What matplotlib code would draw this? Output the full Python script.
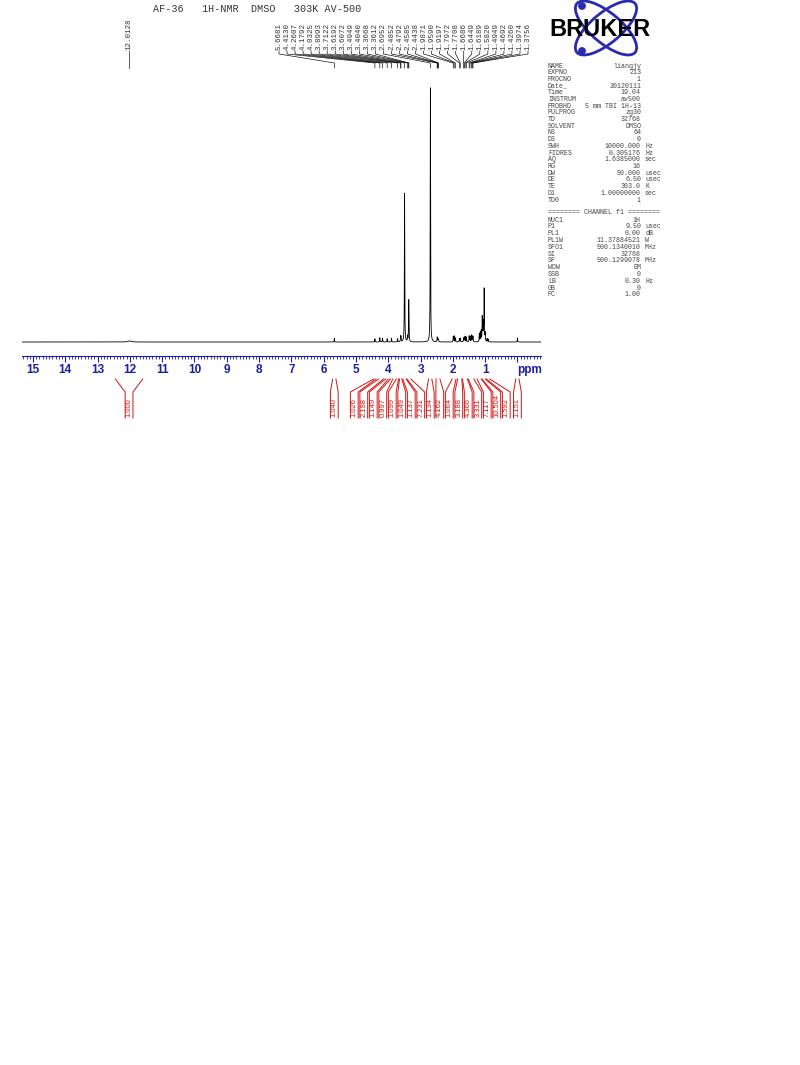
import numpy as np
import matplotlib
matplotlib.use('Agg')
import matplotlib.pyplot as plt
from matplotlib.patches import Ellipse, Circle
from matplotlib.transforms import Bbox, TransformedBbox

# --- data ---
# spectrum peaks (ppm, height relative to the tallest line, half width in ppm)
peak_ppm = [12.01, 5.668, 4.413, 4.261, 4.179, 4.033, 3.899, 3.712, 3.619, 3.607,
            3.4949, 3.404, 3.3668, 3.3612, 2.6952, 2.4852, 2.4792, 2.4585, 2.4438,
            1.987, 1.959, 1.920, 1.797, 1.771, 1.669, 1.645, 1.619, 1.582,
            1.495, 1.469, 1.426, 1.397, 1.376, 1.18, 1.15, 1.12, 1.09, 1.07,
            1.05, 1.03, 1.00, 0.94, 0.90, 0.0]
peak_height = [0.004, 0.014, 0.012, 0.016, 0.014, 0.012, 0.014, 0.012, 0.018, 0.018,
               0.557, 0.02, 0.10, 0.09, 0.956, 0.012, 0.01, 0.01, 0.008,
               0.02, 0.022, 0.015, 0.012, 0.014, 0.014, 0.016, 0.02, 0.018,
               0.022, 0.02, 0.025, 0.02, 0.02, 0.03, 0.035, 0.04, 0.089, 0.05,
               0.06, 0.193, 0.03, 0.012, 0.01, 0.015]
peak_width = [0.06] + [0.006] * 43

# peak pick labels
label_ppm = [5.6681, 4.4130, 4.2607, 4.1792, 4.0325, 3.8993, 3.7122, 3.6192, 3.6072,
             3.4949, 3.4040, 3.3668, 3.3612, 2.6952, 2.4852, 2.4792, 2.4585, 2.4438,
             1.9871, 1.9590, 1.9197, 1.7972, 1.7708, 1.6686, 1.6449, 1.6189, 1.5820,
             1.4949, 1.4692, 1.4260, 1.3974, 1.3756]
lone_label_ppm = 12.0128

# integrals: region (from, to) in ppm and value
int_hi = [12.45, 5.72, 4.45, 4.30, 4.08, 3.93, 3.75, 3.65, 3.55, 3.42,
          2.75, 2.52, 2.02, 1.85, 1.70, 1.52, 1.25, 1.10, 0.96, 0.05]
int_lo = [11.60, 5.62, 4.38, 4.15, 4.00, 3.86, 3.68, 3.58, 3.45, 3.30,
          2.65, 2.40, 1.90, 1.72, 1.55, 1.35, 1.12, 1.00, 0.86, -0.05]
int_val = ['1.000', '1.040', '1.026', '2.198', '1.149', '0.997', '1.099', '1.049',
           '1.137', '7.231', '1.134', '4.162', '1.064', '3.188', '4.366', '3.331',
           '7.117', '10.504', '1.592', '1.151']

title = 'AF-36   1H-NMR  DMSO   303K AV-500'

par_names = ['NAME', 'EXPNO', 'PROCNO', 'Date_', 'Time', 'INSTRUM', 'PROBHD', 'PULPROG',
             'TD', 'SOLVENT', 'NS', 'DS', 'SWH', 'FIDRES', 'AQ', 'RG', 'DW', 'DE',
             'TE', 'D1', 'TD0']
par_values = ['liangjy', '213', '1', '20120111', '19.04', 'av500', '5 mm TBI 1H-13',
              'zg30', '32768', 'DMSO', '64', '0', '10000.000', '0.305176', '1.6385000',
              '16', '50.000', '6.50', '303.0', '1.00000000', '1']
par_units = ['', '', '', '', '', '', '', '', '', '', '', '', 'Hz', 'Hz', 'sec',
             '', 'usec', 'usec', 'K', 'sec', '']
ch_names = ['NUC1', 'P1', 'PL1', 'PL1W', 'SFO1', 'SI', 'SF', 'WDW', 'SSB', 'LB', 'GB', 'PC']
ch_values = ['1H', '9.50', '0.00', '11.37884521', '500.1340010', '32768',
             '500.1299078', 'EM', '0', '0.30', '0', '1.00']
ch_units = ['', 'usec', 'dB', 'W', 'MHz', '', 'MHz', '', '', 'Hz', '', '']

W, H = 800, 1065
blue = '#1c1ca8'
red = '#d01515'

fig = plt.figure(figsize=(W / 100, H / 100), dpi=100)

# spectrum axes, placed in pixels
ax = fig.add_axes([22 / W, (H - 356) / H, 519 / W, 296 / H])
ppm = np.linspace(15.34, -0.73, 12000)
spec = np.zeros_like(ppm)
for p, h, w in zip(peak_ppm, peak_height, peak_width):
    spec += h / (1 + ((ppm - p) / w) ** 2)
ax.plot(ppm, spec, color='k', lw=0.6)
ax.set_xlim(15.34, -0.73)
ax.set_ylim(-0.052, 1.048)
for s in ['left', 'right', 'top']:
    ax.spines[s].set_visible(False)
ax.spines['bottom'].set_color(blue)
ax.spines['bottom'].set_linewidth(0.8)
ax.set_yticks([])
ax.set_xticks(range(0, 16))
ax.set_xticklabels([''] + [str(i) for i in range(1, 16)])
ax.set_xticks(np.arange(-0.7, 15.35, 0.1), minor=True)
ax.tick_params(axis='x', which='major', length=4, width=0.8, color=blue, pad=2,
               labelcolor=blue, labelsize=8.5)
ax.tick_params(axis='x', which='minor', length=2, width=0.6, color=blue)
for t in ax.get_xticklabels():
    t.set_fontfamily('Liberation Sans')
    t.set_fontweight('bold')
ax.patch.set_alpha(0)

# overlay in pixel coordinates for all annotations
ov = fig.add_axes([0, 0, 1, 1])
ov.set_xlim(0, W)
ov.set_ylim(H, 0)
ov.axis('off')
ov.patch.set_alpha(0)


def to_px(p):
    disp = ax.transData.transform([(p, 0)])
    return ov.transData.inverted().transform(disp)[0, 0]


ov.text(530, 370, 'ppm', color=blue, fontsize=8.5, fontweight='bold',
        family='Liberation Sans', ha='center', va='center')

ov.text(153, 9, title, family='Liberation Mono', fontsize=7.3, color='#333333',
        ha='left', va='center')

# peak labels and connectors
lab_x = list(np.linspace(279, 528, len(label_ppm)))
all_x = [to_px(lone_label_ppm)] + lab_x
all_p = [lone_label_ppm] + label_ppm
for lx, p in zip(all_x, all_p):
    ov.text(lx, 50, f'{p:.4f}', rotation=90, family='Liberation Mono', fontsize=5.4,
            color='#333333', ha='center', va='bottom')
    px = to_px(p)
    ov.plot([lx, lx, px, px], [51, 54, 63, 68], color='k', lw=0.45)

# integrals
centers = np.array([(to_px(a) + to_px(b)) / 2 for a, b in zip(int_hi, int_lo)])
pos = centers.copy()
gap = 9.5
for _ in range(1000):
    moved = False
    for i in range(len(pos) - 1):
        d = pos[i + 1] - pos[i]
        if d < gap - 1e-6:
            s = (gap - d) / 2
            pos[i] -= s
            pos[i + 1] += s
            moved = True
    if not moved:
        break
for a, b, lx, v in zip(int_hi, int_lo, pos, int_val):
    xa, xb = to_px(a), to_px(b)
    ov.plot([xa, lx - 3.9, lx - 3.9], [379, 392, 418], color=red, lw=0.7)
    ov.plot([xb, lx + 3.9, lx + 3.9], [379, 392, 418], color=red, lw=0.7)
    ov.text(lx, 417, v, rotation=90, family='Liberation Sans', fontsize=5.4,
            color=red, ha='center', va='bottom')

# parameter table
clip = TransformedBbox(Bbox([[0, 0], [660 / W, 1]]), fig.transFigure)


def par_line(y, name, val, unit):
    ov.text(548, y, name, family='Liberation Mono', fontsize=4.8, color='#444444',
            ha='left', va='center')
    ov.text(641, y, val, family='Liberation Mono', fontsize=4.8, color='#444444',
            ha='right', va='center')
    if unit:
        t = ov.text(645, y, unit, family='Liberation Mono', fontsize=4.8,
                    color='#444444', ha='left', va='center', clip_on=True)
        t.set_clip_box(clip)


for i, (n, v, u) in enumerate(zip(par_names, par_values, par_units)):
    par_line(66 + i * 6.7, n, v, u)
t = ov.text(548, 213, '======== CHANNEL f1 ========', family='Liberation Mono',
            fontsize=4.8, color='#444444', ha='left', va='center', clip_on=True)
t.set_clip_box(clip)
for i, (n, v, u) in enumerate(zip(ch_names, ch_values, ch_units)):
    par_line(220 + i * 6.8, n, v, u)

# Bruker logo
logo_blue = '#2a2ab0'
ov.add_patch(Ellipse((606, 28), 76, 30, angle=40, fill=False, ec=logo_blue, lw=2))
ov.add_patch(Ellipse((606, 28), 76, 30, angle=-40, fill=False, ec=logo_blue, lw=2))
ov.add_patch(Circle((582, 6), 3.2, color=logo_blue))
ov.add_patch(Circle((582, 51), 3.2, color=logo_blue))
ov.text(600, 29, 'BRUKER', family='Liberation Sans', fontweight='bold', fontsize=17,
        color='k', ha='center', va='center', zorder=5)

fig.savefig('out.png', dpi=100)
